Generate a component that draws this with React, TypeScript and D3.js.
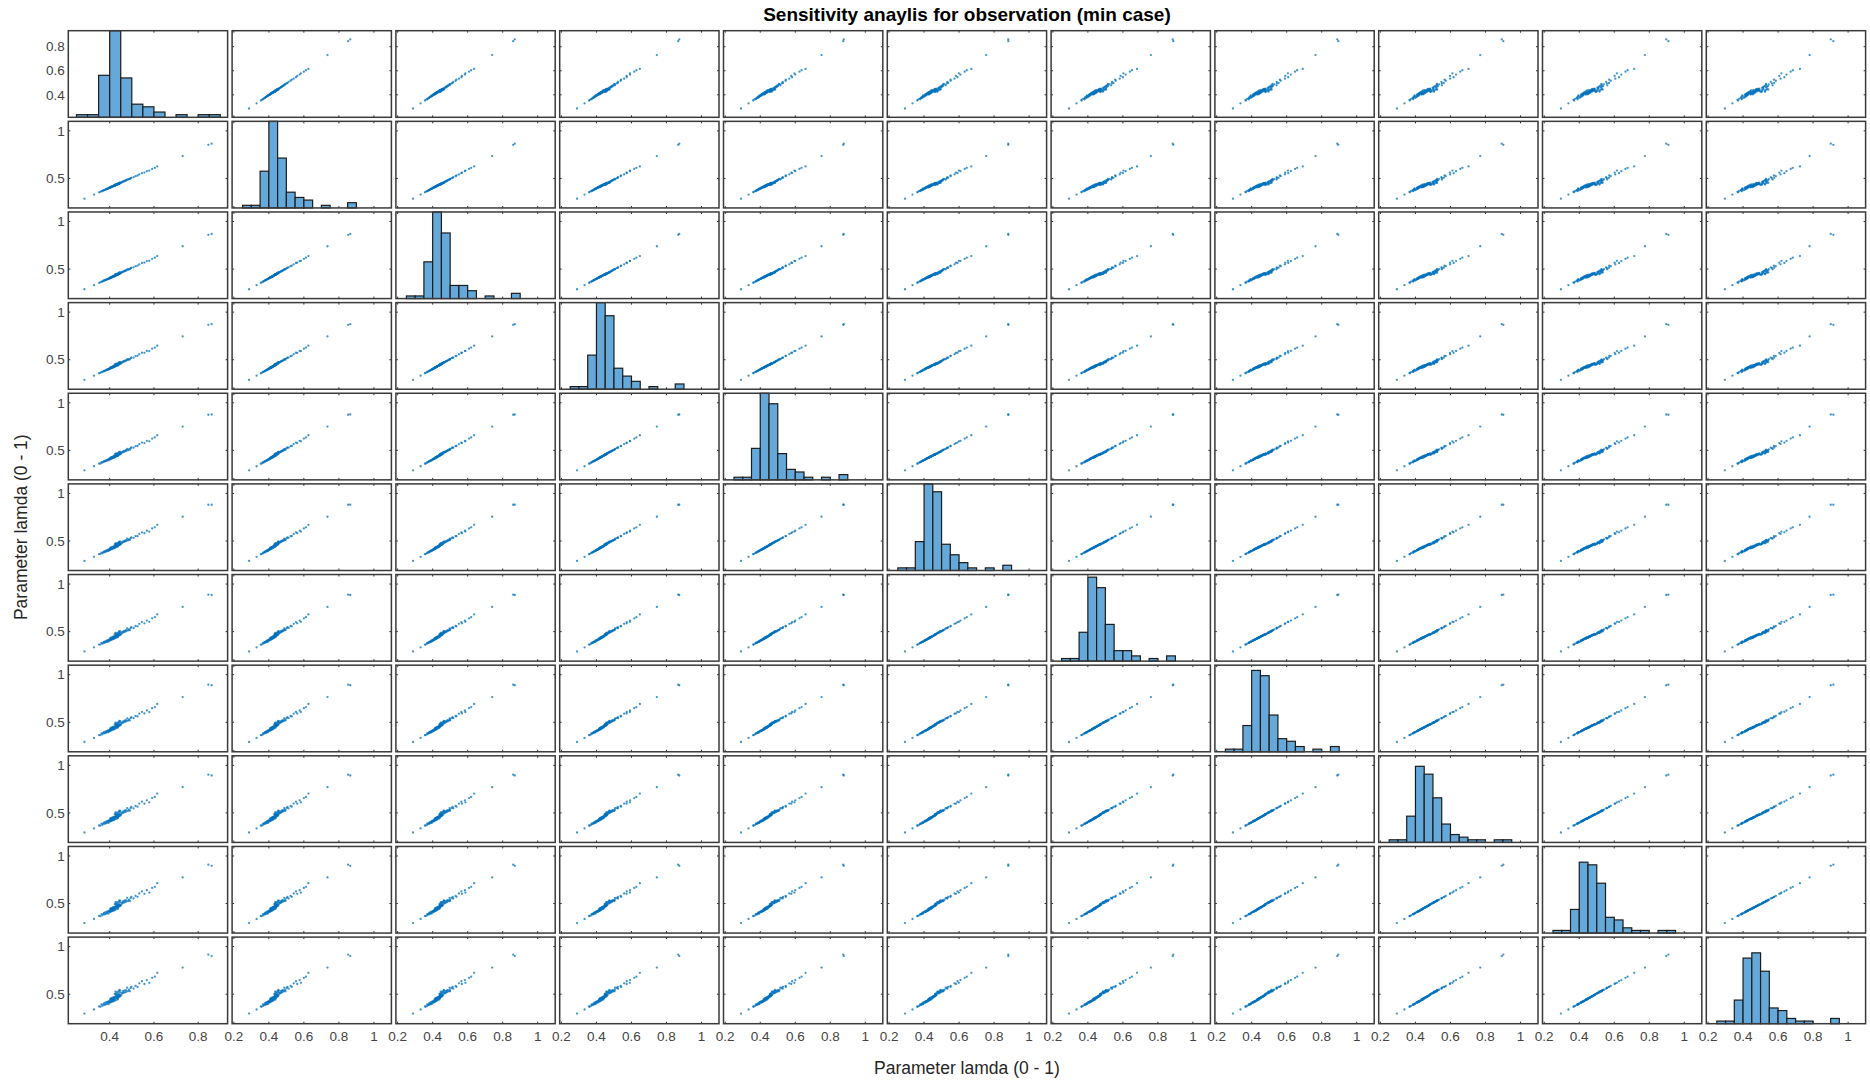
import React from "react";
import * as d3 from "d3";

// ---- Data: 100 sampled parameter sets, 11 lambda parameters (values 0-1) ----
const lambda1 = [0.286,0.329,0.352,0.358,0.363,0.367,0.371,0.374,0.377,0.380,0.383,0.386,0.388,0.391,0.393,0.395,0.397,0.399,0.401,0.402,0.403,0.404,0.405,0.406,0.407,0.408,0.409,0.410,0.411,0.412,0.413,0.414,0.415,0.416,0.417,0.418,0.419,0.420,0.421,0.422,0.423,0.424,0.425,0.426,0.427,0.428,0.429,0.430,0.431,0.432,0.433,0.434,0.435,0.436,0.437,0.438,0.439,0.440,0.441,0.442,0.443,0.444,0.445,0.446,0.447,0.448,0.449,0.426,0.433,0.438,0.444,0.452,0.455,0.458,0.461,0.464,0.467,0.470,0.473,0.476,0.479,0.483,0.487,0.491,0.495,0.498,0.508,0.517,0.526,0.534,0.546,0.557,0.568,0.579,0.592,0.604,0.615,0.730,0.846,0.861];
const lambda2 = [0.287,0.330,0.354,0.359,0.366,0.368,0.373,0.377,0.378,0.383,0.384,0.389,0.389,0.394,0.395,0.395,0.400,0.401,0.402,0.406,0.405,0.409,0.406,0.410,0.409,0.413,0.411,0.413,0.412,0.416,0.415,0.419,0.418,0.417,0.421,0.421,0.424,0.421,0.425,0.424,0.431,0.427,0.426,0.431,0.431,0.435,0.437,0.433,0.436,0.433,0.437,0.443,0.438,0.441,0.438,0.445,0.443,0.445,0.444,0.451,0.447,0.449,0.448,0.453,0.451,0.457,0.452,0.436,0.439,0.440,0.454,0.456,0.461,0.463,0.468,0.469,0.474,0.475,0.480,0.481,0.488,0.488,0.493,0.495,0.502,0.506,0.513,0.524,0.531,0.542,0.555,0.562,0.576,0.583,0.600,0.612,0.626,0.735,0.853,0.865];
const lambda3 = [0.288,0.331,0.356,0.360,0.369,0.369,0.375,0.380,0.379,0.386,0.385,0.392,0.390,0.397,0.397,0.395,0.403,0.403,0.403,0.410,0.407,0.414,0.407,0.414,0.411,0.418,0.413,0.416,0.413,0.420,0.417,0.424,0.421,0.418,0.425,0.424,0.429,0.422,0.429,0.426,0.439,0.430,0.427,0.436,0.435,0.442,0.445,0.436,0.441,0.434,0.441,0.452,0.441,0.446,0.439,0.452,0.447,0.450,0.447,0.460,0.451,0.454,0.451,0.460,0.455,0.466,0.455,0.446,0.445,0.442,0.464,0.460,0.467,0.468,0.475,0.474,0.481,0.480,0.487,0.486,0.497,0.493,0.499,0.499,0.509,0.514,0.518,0.531,0.536,0.550,0.564,0.567,0.584,0.587,0.608,0.620,0.637,0.740,0.860,0.869];
const lambda4 = [0.289,0.332,0.358,0.361,0.372,0.370,0.377,0.383,0.380,0.389,0.386,0.395,0.391,0.400,0.399,0.395,0.406,0.405,0.404,0.414,0.409,0.419,0.408,0.418,0.413,0.423,0.415,0.419,0.414,0.424,0.419,0.429,0.424,0.419,0.429,0.427,0.434,0.423,0.433,0.428,0.447,0.433,0.428,0.441,0.439,0.449,0.453,0.439,0.446,0.435,0.445,0.461,0.444,0.451,0.440,0.459,0.451,0.455,0.450,0.469,0.455,0.459,0.454,0.467,0.459,0.475,0.458,0.456,0.451,0.444,0.474,0.464,0.473,0.473,0.482,0.479,0.488,0.485,0.494,0.491,0.506,0.498,0.505,0.503,0.516,0.522,0.523,0.538,0.541,0.558,0.573,0.572,0.592,0.591,0.616,0.628,0.648,0.745,0.867,0.873];
const lambda5 = [0.290,0.333,0.360,0.362,0.375,0.371,0.379,0.386,0.381,0.392,0.387,0.398,0.392,0.403,0.401,0.395,0.409,0.407,0.405,0.418,0.411,0.424,0.409,0.422,0.415,0.428,0.417,0.422,0.415,0.428,0.421,0.434,0.427,0.420,0.433,0.430,0.439,0.424,0.437,0.430,0.455,0.436,0.429,0.446,0.443,0.456,0.461,0.442,0.451,0.436,0.449,0.470,0.447,0.456,0.441,0.466,0.455,0.460,0.453,0.478,0.459,0.464,0.457,0.474,0.463,0.484,0.461,0.466,0.457,0.446,0.484,0.468,0.479,0.478,0.489,0.484,0.495,0.490,0.501,0.496,0.515,0.503,0.511,0.507,0.523,0.530,0.528,0.545,0.546,0.566,0.582,0.577,0.600,0.595,0.624,0.636,0.659,0.750,0.874,0.877];
const lambda6 = [0.291,0.334,0.362,0.363,0.378,0.372,0.381,0.389,0.382,0.395,0.388,0.401,0.393,0.406,0.403,0.395,0.412,0.409,0.406,0.422,0.413,0.429,0.410,0.426,0.417,0.433,0.419,0.425,0.416,0.432,0.423,0.439,0.430,0.421,0.437,0.433,0.444,0.425,0.441,0.432,0.463,0.439,0.430,0.451,0.447,0.463,0.469,0.445,0.456,0.437,0.453,0.479,0.450,0.461,0.442,0.473,0.459,0.465,0.456,0.487,0.463,0.469,0.460,0.481,0.467,0.493,0.464,0.476,0.463,0.448,0.494,0.472,0.485,0.483,0.496,0.489,0.502,0.495,0.508,0.501,0.524,0.508,0.517,0.511,0.530,0.538,0.533,0.552,0.551,0.574,0.591,0.582,0.608,0.599,0.632,0.644,0.670,0.755,0.881,0.881];
const lambda7 = [0.292,0.335,0.364,0.364,0.381,0.373,0.383,0.392,0.383,0.398,0.389,0.404,0.394,0.409,0.405,0.395,0.415,0.411,0.407,0.426,0.415,0.434,0.411,0.430,0.419,0.438,0.421,0.428,0.417,0.436,0.425,0.444,0.433,0.422,0.441,0.436,0.449,0.426,0.445,0.434,0.471,0.442,0.431,0.456,0.451,0.470,0.477,0.448,0.461,0.438,0.457,0.488,0.453,0.466,0.443,0.480,0.463,0.470,0.459,0.496,0.467,0.474,0.463,0.488,0.471,0.502,0.467,0.486,0.469,0.450,0.504,0.476,0.491,0.488,0.503,0.494,0.509,0.500,0.515,0.506,0.533,0.513,0.523,0.515,0.537,0.546,0.538,0.559,0.556,0.582,0.600,0.587,0.616,0.603,0.640,0.652,0.681,0.760,0.888,0.885];
const lambda8 = [0.293,0.336,0.366,0.365,0.384,0.374,0.385,0.395,0.384,0.401,0.390,0.407,0.395,0.412,0.407,0.395,0.418,0.413,0.408,0.430,0.417,0.439,0.412,0.434,0.421,0.443,0.423,0.431,0.418,0.440,0.427,0.449,0.436,0.423,0.445,0.439,0.454,0.427,0.449,0.436,0.479,0.445,0.432,0.461,0.455,0.477,0.485,0.451,0.466,0.439,0.461,0.497,0.456,0.471,0.444,0.487,0.467,0.475,0.462,0.505,0.471,0.479,0.466,0.495,0.475,0.511,0.470,0.496,0.475,0.452,0.514,0.480,0.497,0.493,0.510,0.499,0.516,0.505,0.522,0.511,0.542,0.518,0.529,0.519,0.544,0.554,0.543,0.566,0.561,0.590,0.609,0.592,0.624,0.607,0.648,0.660,0.692,0.765,0.895,0.889];
const lambda9 = [0.294,0.337,0.368,0.366,0.387,0.375,0.387,0.398,0.385,0.404,0.391,0.410,0.396,0.415,0.409,0.395,0.421,0.415,0.409,0.434,0.419,0.444,0.413,0.438,0.423,0.448,0.425,0.434,0.419,0.444,0.429,0.454,0.439,0.424,0.449,0.442,0.459,0.428,0.453,0.438,0.487,0.448,0.433,0.466,0.459,0.484,0.493,0.454,0.471,0.440,0.465,0.506,0.459,0.476,0.445,0.494,0.471,0.480,0.465,0.514,0.475,0.484,0.469,0.502,0.479,0.520,0.473,0.506,0.481,0.454,0.524,0.484,0.503,0.498,0.517,0.504,0.523,0.510,0.529,0.516,0.551,0.523,0.535,0.523,0.551,0.562,0.548,0.573,0.566,0.598,0.618,0.597,0.632,0.611,0.656,0.668,0.703,0.770,0.902,0.893];
const lambda10 = [0.295,0.338,0.370,0.367,0.390,0.376,0.389,0.401,0.386,0.407,0.392,0.413,0.397,0.418,0.411,0.395,0.424,0.417,0.410,0.438,0.421,0.449,0.414,0.442,0.425,0.453,0.427,0.437,0.420,0.448,0.431,0.459,0.442,0.425,0.453,0.445,0.464,0.429,0.457,0.440,0.495,0.451,0.434,0.471,0.463,0.491,0.501,0.457,0.476,0.441,0.469,0.515,0.462,0.481,0.446,0.501,0.475,0.485,0.468,0.523,0.479,0.489,0.472,0.509,0.483,0.529,0.476,0.516,0.487,0.456,0.534,0.488,0.509,0.503,0.524,0.509,0.530,0.515,0.536,0.521,0.560,0.528,0.541,0.527,0.558,0.570,0.553,0.580,0.571,0.606,0.627,0.602,0.640,0.615,0.664,0.676,0.714,0.775,0.909,0.897];
const lambda11 = [0.296,0.339,0.372,0.368,0.393,0.377,0.391,0.404,0.387,0.410,0.393,0.416,0.398,0.421,0.413,0.395,0.427,0.419,0.411,0.442,0.423,0.454,0.415,0.446,0.427,0.458,0.429,0.440,0.421,0.452,0.433,0.464,0.445,0.426,0.457,0.448,0.469,0.430,0.461,0.442,0.503,0.454,0.435,0.476,0.467,0.498,0.509,0.460,0.481,0.442,0.473,0.524,0.465,0.486,0.447,0.508,0.479,0.490,0.471,0.532,0.483,0.494,0.475,0.516,0.487,0.538,0.479,0.526,0.493,0.458,0.544,0.492,0.515,0.508,0.531,0.514,0.537,0.520,0.543,0.526,0.569,0.533,0.547,0.531,0.565,0.578,0.558,0.587,0.576,0.614,0.636,0.607,0.648,0.619,0.672,0.684,0.725,0.780,0.916,0.901];

const variables = [lambda1, lambda2, lambda3, lambda4, lambda5, lambda6, lambda7, lambda8, lambda9, lambda10, lambda11];

// axis limits per parameter (shared by its row and column)
const firstLimits = [0.213, 0.933];
const otherLimits = [0.19, 1.1];
// tick values
const firstTicks = [0.4, 0.6, 0.8];
const otherXTicks = [0.2, 0.4, 0.6, 0.8, 1];
const otherYTicks = [0.5, 1];
// histogram bin edges and count axis limit
const binEdges = [0.25, 0.3, 0.35, 0.4, 0.45, 0.5, 0.55, 0.6, 0.65, 0.7, 0.75, 0.8, 0.85, 0.9, 0.95];
const histCountMax = 33;

const titleText = "Sensitivity anaylis for observation (min case)";
const xLabelText = "Parameter lamda (0 - 1)";
const yLabelText = "Parameter lamda (0 - 1)";

// ---- Layout ----
const W = 1870;
const H = 1083;
const gridLeft = 68.3;
const cellW = 159.3;
const gapX = 4.5;
const gridTop = 30.7;
const cellH = 86.6;
const gapY = 4.04;
const FONT = "'Liberation Sans', Arial, Helvetica, sans-serif";

export default function App() {
  const n = variables.length;
  const fmt = d3.format("~g");
  const limits = (k: number) => (k === 0 ? firstLimits : otherLimits);
  const xTicksFor = (k: number) => (k === 0 ? firstTicks : otherXTicks);
  const yTicksFor = (k: number) => (k === 0 ? firstTicks : otherYTicks);

  const cells: React.ReactNode[] = [];
  for (let i = 0; i < n; i++) {
    for (let j = 0; j < n; j++) {
      const x0 = gridLeft + j * (cellW + gapX);
      const y0 = gridTop + i * (cellH + gapY);
      const xs = d3.scaleLinear().domain(limits(j)).range([x0, x0 + cellW]);
      const ys = d3.scaleLinear().domain(limits(i)).range([y0 + cellH, y0]);
      const content: React.ReactNode[] = [];
      if (i === j) {
        const binner = d3
          .bin()
          .domain([binEdges[0], binEdges[binEdges.length - 1]])
          .thresholds(binEdges.slice(1, -1));
        const bins = binner(variables[i]);
        const hy = d3.scaleLinear().domain([0, histCountMax]).range([y0 + cellH, y0]);
        bins.forEach((b, bi) => {
          if (b.length === 0) return;
          const top = Math.max(hy(b.length), y0);
          content.push(
            <rect
              key={`h${bi}`}
              x={xs(b.x0 as number)}
              y={top}
              width={xs(b.x1 as number) - xs(b.x0 as number)}
              height={y0 + cellH - top}
              fill="#64a9da"
              stroke="#1c1c1c"
              strokeWidth={1.2}
            />
          );
        });
      } else {
        const xv = variables[j];
        const yv = variables[i];
        xv.forEach((v, k) => {
          content.push(
            <circle key={`p${k}`} cx={xs(v)} cy={ys(yv[k])} r={1.15} fill="#0072bd" fillOpacity={0.75} />
          );
        });
      }
      // tick marks (inward, mirrored)
      const tickEls: React.ReactNode[] = [];
      xTicksFor(j).forEach((t, k) => {
        const tx = xs(t);
        if (tx < x0 || tx > x0 + cellW) return;
        tickEls.push(<line key={`xb${k}`} x1={tx} x2={tx} y1={y0 + cellH} y2={y0 + cellH - 2} stroke="#333" strokeWidth={1} />);
        tickEls.push(<line key={`xt${k}`} x1={tx} x2={tx} y1={y0} y2={y0 + 2} stroke="#333" strokeWidth={1} />);
      });
      if (i !== j) {
        yTicksFor(i).forEach((t, k) => {
          const ty = ys(t);
          if (ty < y0 || ty > y0 + cellH) return;
          tickEls.push(<line key={`yl${k}`} x1={x0} x2={x0 + 2} y1={ty} y2={ty} stroke="#333" strokeWidth={1} />);
          tickEls.push(<line key={`yr${k}`} x1={x0 + cellW} x2={x0 + cellW - 2} y1={ty} y2={ty} stroke="#333" strokeWidth={1} />);
        });
      }
      cells.push(
        <g key={`c${i}-${j}`}>
          <rect x={x0} y={y0} width={cellW} height={cellH} fill="#fff" />
          {content}
          {tickEls}
          <rect x={x0} y={y0} width={cellW} height={cellH} fill="none" stroke="#3a3a3a" strokeWidth={1.5} />
        </g>
      );
    }
  }

  // tick labels: left column (y) and bottom row (x)
  const labels: React.ReactNode[] = [];
  for (let i = 0; i < n; i++) {
    const y0 = gridTop + i * (cellH + gapY);
    const ys = d3.scaleLinear().domain(limits(i)).range([y0 + cellH, y0]);
    yTicksFor(i).forEach((t, k) => {
      labels.push(
        <text key={`yl${i}-${k}`} x={gridLeft - 3.5} y={ys(t)} dy="0.35em" textAnchor="end" fontSize={13.5} fill="#444">
          {fmt(t)}
        </text>
      );
    });
  }
  const bottom = gridTop + (n - 1) * (cellH + gapY) + cellH;
  for (let j = 0; j < n; j++) {
    const x0 = gridLeft + j * (cellW + gapX);
    const xs = d3.scaleLinear().domain(limits(j)).range([x0, x0 + cellW]);
    xTicksFor(j).forEach((t, k) => {
      labels.push(
        <text key={`xl${j}-${k}`} x={xs(t)} y={bottom + 13} dy="0.35em" textAnchor="middle" fontSize={13.5} fill="#444">
          {fmt(t)}
        </text>
      );
    });
  }

  const gridRight = gridLeft + n * cellW + (n - 1) * gapX;
  const cx = (gridLeft + gridRight) / 2;
  const cy = (gridTop + bottom) / 2;

  return (
    <svg
      width={W}
      height={H}
      style={{ position: "absolute", left: 0, top: 0, background: "#fff" }}
      fontFamily={FONT}
    >
      <rect x={0} y={0} width={W} height={H} fill="#fff" />
      {cells}
      {labels}
      <text x={cx} y={21} textAnchor="middle" fontSize={19} fontWeight="bold" fill="#000">
        {titleText}
      </text>
      <text x={cx} y={1074} textAnchor="middle" fontSize={17.5} fill="#262626">
        {xLabelText}
      </text>
      <text transform={`translate(27, ${cy}) rotate(-90)`} textAnchor="middle" fontSize={17.5} fill="#262626">
        {yLabelText}
      </text>
    </svg>
  );
}
